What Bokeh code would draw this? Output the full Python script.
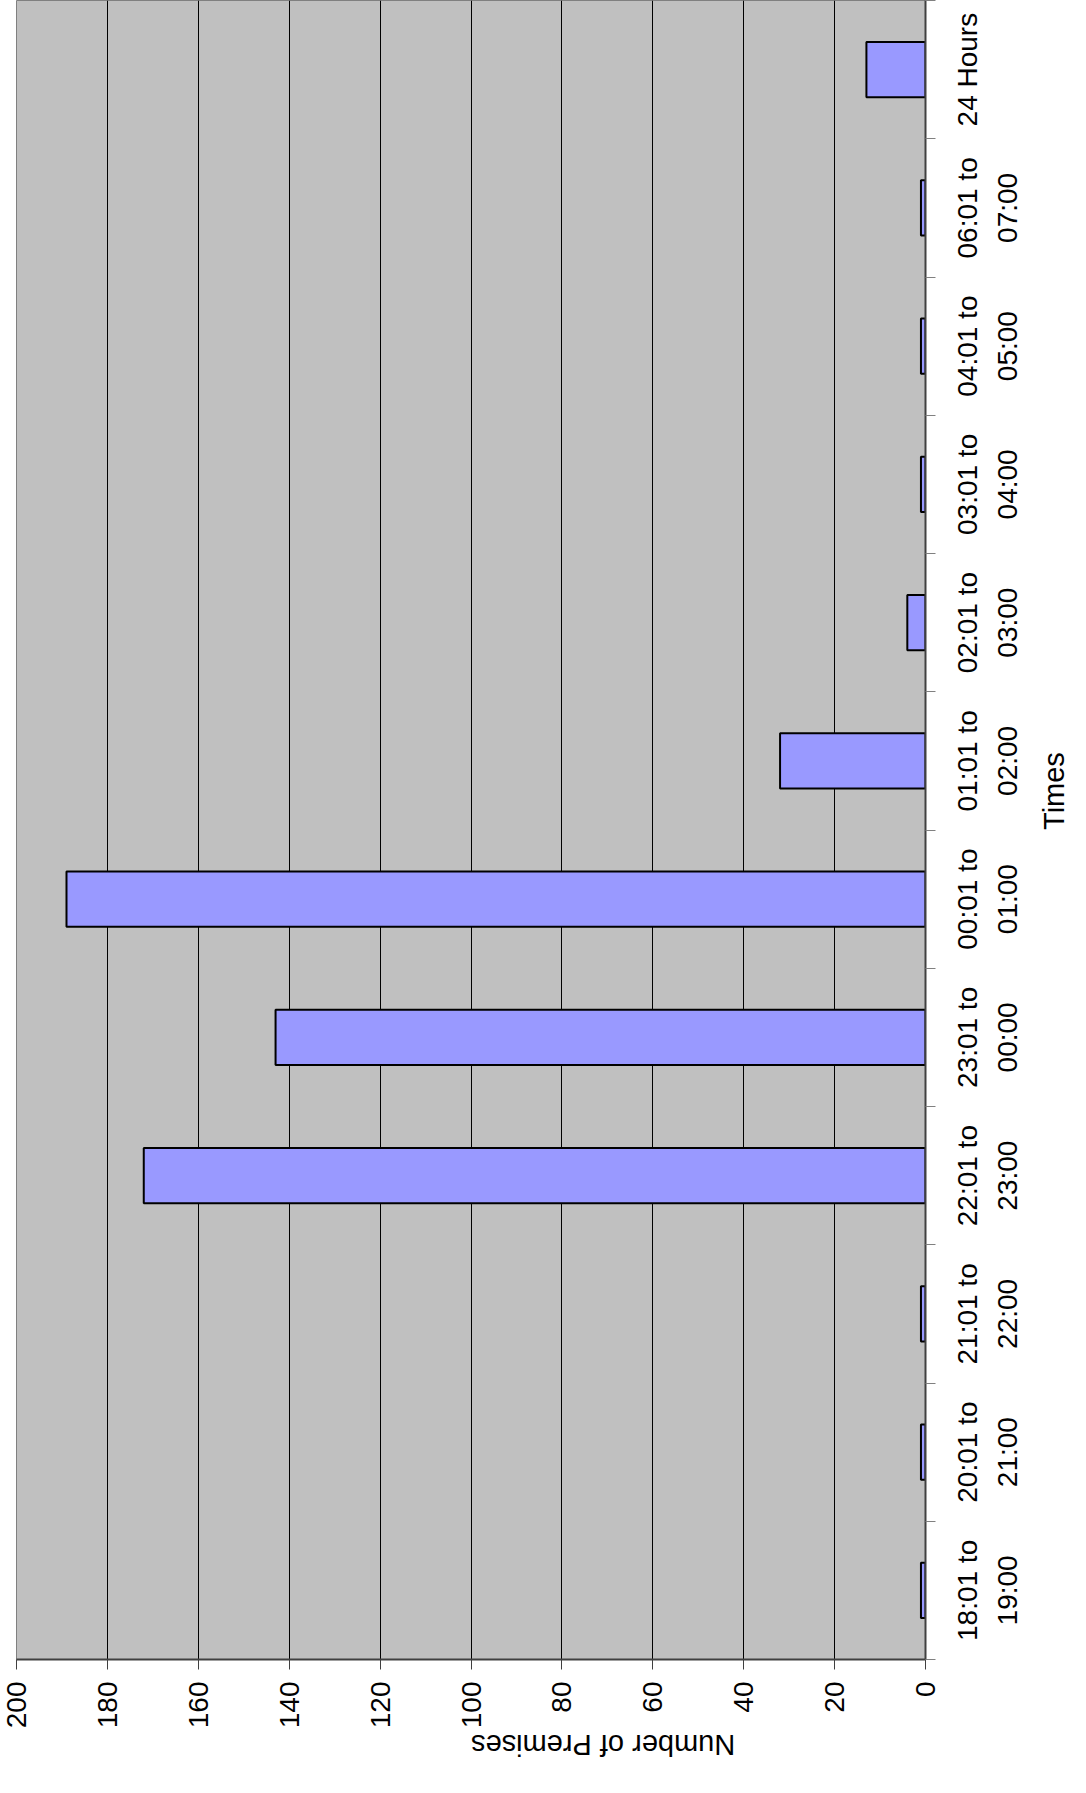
import math
from bokeh.plotting import figure
from bokeh.models import Range1d, FixedTicker, ColumnDataSource, LinearAxis
from bokeh.embed import file_html
from bokeh.resources import INLINE

categories = [
    "18:01 to 19:00", "20:01 to 21:00", "21:01 to 22:00", "22:01 to 23:00",
    "23:01 to 00:00", "00:01 to 01:00", "01:01 to 02:00", "02:01 to 03:00",
    "03:01 to 04:00", "04:01 to 05:00", "06:01 to 07:00", "24 Hours",
]
premises = [1, 1, 1, 172, 143, 189, 32, 4, 1, 1, 1, 13]
value_ticks = [0, 20, 40, 60, 80, 100, 120, 140, 160, 180, 200]

FONT = "Liberation Sans"
LABEL_PX = 28
FRAME_H = 1659

n = len(categories)
band_edges = list(range(n + 1))
band_centers = [i + 0.5 for i in range(n)]

# advance widths (em) of Liberation Sans, used to centre the rotated labels,
# whose text starts at the tick position
ADV = {c: 0.556 for c in "0123456789"}
ADV.update({":": 0.278, " ": 0.278, "t": 0.278, "o": 0.556, "H": 0.722,
            "u": 0.556, "r": 0.333, "s": 0.5})
px_per_band = FRAME_H / n


def start_of(text, centre):
    w = sum(ADV.get(ch, 0.556) for ch in text) * LABEL_PX
    return round(centre - (w / 2) / px_per_band, 4)


# the two text lines under each category, as the chart shows them
l1_ticks, l1_map, l2_ticks, l2_map = [], {}, [], {}
for pos, c in zip(band_centers, categories):
    if " to " in c:
        a, b = c.split(" to ")
        t1, t2 = a + " to", b
    else:
        t1, t2 = c, None
    k = start_of(t1, pos)
    l1_ticks.append(k); l1_map[k] = t1
    if t2:
        k = start_of(t2, pos)
        l2_ticks.append(k); l2_map[k] = t2

src = ColumnDataSource(dict(pos=band_centers, cat=categories, val=premises))

p = figure(
    y_range=Range1d(0, n),
    x_range=Range1d(200, 0),
    frame_width=909, frame_height=FRAME_H,
    y_axis_location=None,
    output_backend="svg", toolbar_location=None,
    min_border_left=16, min_border_top=0, min_border_right=0, min_border_bottom=0,
)

p.background_fill_color = "#C0C0C0"
p.border_fill_color = "white"
p.outline_line_color = "#808080"
p.outline_line_width = 1

p.hbar(y="pos", right="val", left=0, height=0.4, source=src,
       fill_color="#9999FF", line_color="black", line_width=2)

p.xgrid.grid_line_color = "black"
p.xgrid.grid_line_width = 1
p.ygrid.grid_line_color = None

xa = p.xaxis[0]
xa.ticker = FixedTicker(ticks=value_ticks)
xa.major_label_orientation = math.pi / 2
xa.major_tick_out = 10
xa.major_tick_in = 0
xa.minor_tick_out = 0
xa.minor_tick_in = 0
xa.axis_line_color = "#404040"
xa.axis_line_width = 2
xa.major_tick_line_color = "#404040"
xa.major_label_text_font = FONT
xa.major_label_text_font_size = "28px"
xa.major_label_text_color = "black"
xa.major_label_standoff = 12
xa.axis_label = "Number of Premises"
xa.axis_label_text_font = FONT
xa.axis_label_text_font_size = "29px"
xa.axis_label_text_font_style = "normal"
xa.axis_label_text_color = "black"
xa.axis_label_standoff = 14
xa.axis_label_orientation = math.pi

# category axis line with ticks at the band edges
ya = LinearAxis(
    ticker=FixedTicker(ticks=[], minor_ticks=band_edges),
    major_tick_out=0, major_tick_in=0, minor_tick_out=10, minor_tick_in=0,
    axis_line_color="#404040", axis_line_width=2,
    minor_tick_line_color="#808080", major_tick_line_color=None,
    major_label_standoff=0,
)
p.add_layout(ya, "right")

# first line of the category labels
ya1 = LinearAxis(
    ticker=FixedTicker(ticks=l1_ticks),
    major_label_overrides=l1_map, major_label_orientation=math.pi / 2,
    major_tick_out=0, major_tick_in=0, minor_tick_out=0, minor_tick_in=0,
    axis_line_color=None, major_tick_line_color=None,
    major_label_text_font=FONT, major_label_text_font_size="28px",
    major_label_text_color="black", major_label_standoff=32,
)
p.add_layout(ya1, "right")

# second line of the category labels, plus the axis title
ya2 = LinearAxis(
    ticker=FixedTicker(ticks=l2_ticks),
    major_label_overrides=l2_map, major_label_orientation=math.pi / 2,
    major_tick_out=0, major_tick_in=0, minor_tick_out=0, minor_tick_in=0,
    axis_line_color=None, major_tick_line_color=None,
    major_label_text_font=FONT, major_label_text_font_size="28px",
    major_label_text_color="black", major_label_standoff=6,
    axis_label="Times", axis_label_text_font=FONT,
    axis_label_text_font_size="29px", axis_label_text_font_style="normal",
    axis_label_text_color="black", axis_label_standoff=12,
    axis_label_orientation=math.pi / 2,
)
p.add_layout(ya2, "right")

open("out.html", "w").write(file_html(p, INLINE))
